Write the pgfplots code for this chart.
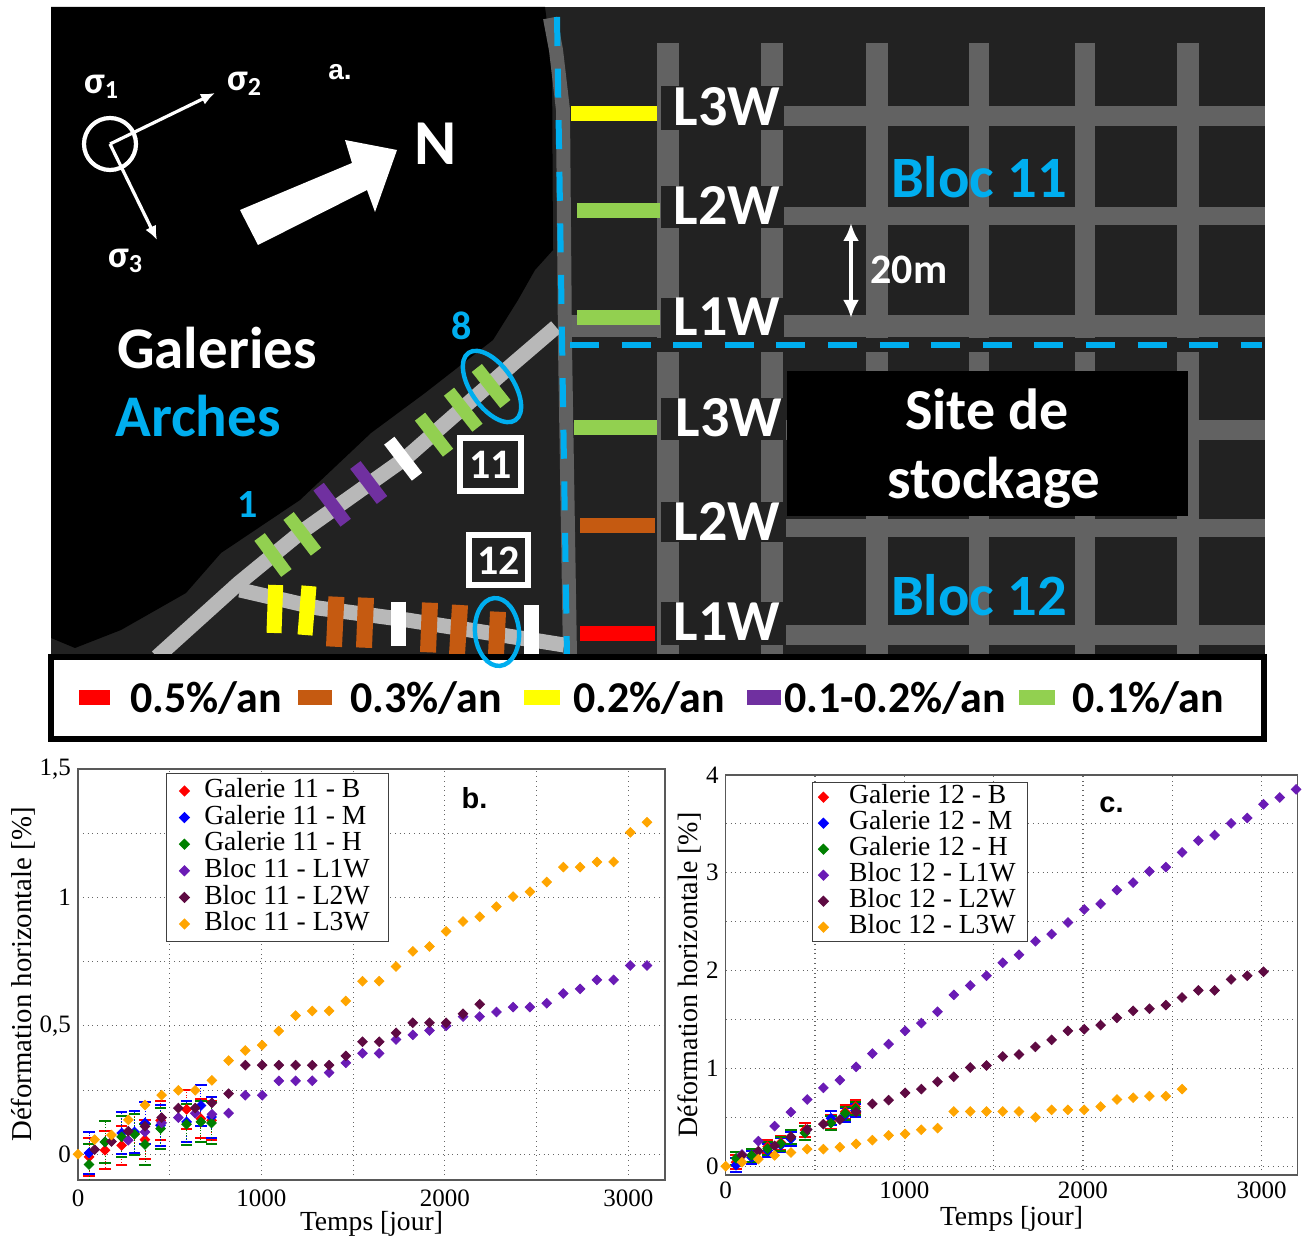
\documentclass[border=0pt]{standalone}
\usepackage{fontspec}
\setmainfont{Liberation Serif}
\newfontfamily\calib{Carlito}
\newfontfamily\ari{Liberation Sans}
\usepackage{pgfplots}
\pgfplotsset{compat=1.18}
\usetikzlibrary{arrows.meta}
\definecolor{cy}{HTML}{00AEEF}
\definecolor{bgg}{HTML}{222222}
\definecolor{rdg}{HTML}{626262}
\definecolor{grn}{HTML}{92D050}
\definecolor{brn}{HTML}{C55A11}
\definecolor{pur}{HTML}{7030A0}
\definecolor{ylw}{HTML}{FFFF00}
\definecolor{pl1}{HTML}{6A1BB5}
\definecolor{pl2}{HTML}{5E0A42}
\definecolor{pl3}{HTML}{FFA500}
\definecolor{gr3}{HTML}{008000}
\newcommand\fs[1]{\fontsize{#1}{#1}\selectfont}
\newcommand\sg[1]{\raisebox{-.3ex}{\fs{13}#1}}
\newcommand\seg[3]{\addplot[draw=#1,line width=#2] coordinates {#3};}
\newcommand\rct[5]{\addplot[fill=#1,draw=none] coordinates {(#2,#3)(#4,#3)(#4,#5)(#2,#5)} --cycle;}
\pgfplotsset{
  gal/.style 2 args={only marks,mark=square*,mark size=1.7pt,color=#1,
    mark options={rotate=45,fill=#1,draw=#1,solid},
    error bars/y dir=both,error bars/y fixed=#2,
    error bars/error bar style={densely dotted,line width=.45pt,color=#1},
    error bars/error mark options={rotate=90,mark size=2.8pt,line width=1pt,draw=#1,color=#1,solid}},
  blk/.style={only marks,mark=square*,mark size=1.7pt,color=#1,
    mark options={rotate=45,fill=#1,draw=#1,solid}},
  chart/.style={scale only axis,axis line style={draw=black!65,line width=.7pt},
    xmin=0,xmax=3200,
    xtick={0,500,1000,1500,2000,2500,3000},
    xticklabels={0,,1000,,2000,,3000},
    grid=major,grid style={dotted,black!60,line width=.55pt},
    major tick length=0pt,
    tick label style={font=\fs{12.5}},
    xlabel={Temps [jour]},ylabel={Déformation horizontale [\%]},
    xlabel style={font=\fs{13.8}},
    legend cell align=left,
    legend style={draw=black!75,line width=.6pt,fill=white,font=\fs{13.8},
      inner ysep=2pt,inner xsep=6.5pt,
      nodes={text height=10pt,text depth=3.3pt,inner ysep=0pt,inner xsep=3pt},
      /tikz/every odd column/.append style={column sep=4.5pt},
      row sep=0pt,anchor=north west}}
}
\begin{document}
\begin{tikzpicture}
\useasboundingbox (0,0) rectangle (651.5pt,618pt);
% ---------- panel a ----------
\begin{axis}[at={(0pt,0pt)},anchor=south west,scale only axis,width=651.5pt,height=618pt,
  xmin=0,xmax=1303,ymin=0,ymax=1236,y dir=reverse,hide axis,clip=true]
\rct{bgg}{51}{7}{1265}{657}
% roads, right hand side
\seg{rdg}{10pt}{(660,116)(1265,116)}
\seg{rdg}{9pt}{(660,216)(1265,216)}
\seg{rdg}{11pt}{(572,326)(1265,326)}
\seg{rdg}{11pt}{(668,43)(668,338)}
\seg{rdg}{11pt}{(772,43)(772,338)}
\seg{rdg}{11pt}{(877,43)(877,338)}
\seg{rdg}{10pt}{(979,43)(979,338)}
\seg{rdg}{10pt}{(1085,43)(1085,338)}
\seg{rdg}{11pt}{(1188,43)(1188,338)}
\seg{rdg}{10pt}{(660,430)(1265,430)}
\seg{rdg}{9pt}{(660,528)(1265,528)}
\seg{rdg}{10pt}{(660,635)(1265,635)}
\seg{rdg}{11pt}{(668,352)(668,657)}
\seg{rdg}{11pt}{(772,352)(772,657)}
\seg{rdg}{11pt}{(877,352)(877,657)}
\seg{rdg}{10pt}{(979,352)(979,657)}
\seg{rdg}{10pt}{(1085,352)(1085,657)}
\seg{rdg}{11pt}{(1188,352)(1188,657)}
% black area
\addplot[fill=black,draw=none] coordinates {(51,7)(545,7)(552,60)(553,250)(535,270)(518,300)(493,340)(425,393)(371,433)(300,500)(221,553)(186,593)(121,630)(75,648)(51,638)} --cycle;
% galleries
\seg{black!62}{7pt}{(550,18)(556,50)(563,110)(565,345)(570,657)}
\seg{black!28}{7.5pt}{(556,327)(514,363)(407,457)(300,533)(239,583)(157,657)}
\seg{black!28}{7.5pt}{(240,590)(318,608)(407,620)(514,637)(564,645)}
% dark behind the labels
\rct{bgg}{661}{86}{784}{130}
\rct{bgg}{661}{186}{784}{228}
\rct{bgg}{661}{298}{784}{338}
\rct{bgg}{661}{398}{786}{440}
\rct{bgg}{661}{502}{786}{542}
\rct{bgg}{661}{602}{786}{645}
\rct{black}{787}{371}{1188}{516}
% colour bars, right
\seg{ylw}{7.5pt}{(571,114)(657,114)}
\seg{grn}{7.5pt}{(577,211)(660,211)}
\seg{grn}{7.5pt}{(577,318)(660,318)}
\seg{grn}{7.5pt}{(574,428)(657,428)}
\seg{brn}{7.5pt}{(580,526)(655,526)}
\seg{red}{7.5pt}{(580,634)(655,634)}
% colour bars, gallery 11
\seg{grn}{6.5pt}{(259.6,537)(286.4,573)}
\seg{grn}{6.5pt}{(288.6,516)(316,551.7)}
\seg{pur}{6.5pt}{(318.6,486.7)(345.7,522.7)}
\seg{pur}{6.5pt}{(355.4,465)(382,500)}
\seg{white}{6.5pt}{(389.3,440.7)(417,476.7)}
\seg{grn}{6.5pt}{(420,416.7)(448,452.7)}
\seg{grn}{6.5pt}{(449,391.7)(477.5,427.7)}
\seg{grn}{6.5pt}{(476.8,368)(505.4,404)}
% colour bars, gallery 12
\seg{ylw}{7.5pt}{(275.7,585)(274,633)}
\seg{ylw}{7.5pt}{(309,586)(305,635)}
\seg{brn}{8pt}{(336.4,596.7)(334,646.7)}
\seg{brn}{8pt}{(366,597.7)(364,647.7)}
\seg{white}{7.5pt}{(398,601.7)(398,646)}
\seg{brn}{8pt}{(430,602.7)(428,652.3)}
\seg{brn}{8pt}{(460,605)(457,655)}
\seg{brn}{8pt}{(498,611.7)(496,655)}
\seg{white}{7.5pt}{(531.4,605)(531.4,655)}
% dashed
\addplot[draw=cy,line width=3pt,dash pattern=on 14.5pt off 11.3pt] coordinates {(557,17)(567,657)};
\addplot[draw=cy,line width=2.6pt,dash pattern=on 14.5pt off 11.3pt] coordinates {(570,345)(1262,345)};
% numbered boxes
\addplot[draw=white,line width=3pt,fill=none] coordinates {(460,438)(521,438)(521,491)(460,491)} --cycle;
\addplot[draw=white,line width=3pt,fill=none] coordinates {(469,535)(528,535)(528,585)(469,585)} --cycle;
% compass
\draw[white,line width=2.1pt] (axis cs:110,144) circle (13pt);
\draw[white,line width=1.6pt,-{Latex[length=7pt,width=6pt]}] (axis cs:110,144) -- (axis cs:215,93);
\draw[white,line width=1.6pt,-{Latex[length=7pt,width=6pt]}] (axis cs:110,144) -- (axis cs:157,240);
% north arrow
\addplot[fill=white,draw=none] coordinates {(240,210)(352,163)(345,140)(397,150)(375,212)(367,190)(258,245)} --cycle;
% 20 m
\draw[white,line width=1.8pt,{Latex[length=9pt,width=8pt]}-{Latex[length=9pt,width=8pt]}] (axis cs:851,223) -- (axis cs:851,318);
% legend box
\addplot[fill=white,draw=black,line width=3pt] coordinates {(51,657)(1264,657)(1264,739)(51,739)} --cycle;
\rct{red}{79}{690}{110}{705}
\rct{brn}{298}{690}{332}{705}
\rct{ylw}{524}{690}{560}{705}
\rct{pur}{747}{690}{781}{705}
\rct{grn}{1019}{690}{1055}{705}
% ellipses
\draw[cy,line width=2.2pt,shift={(axis cs:492,386.5)},rotate=-55] (0,0) ellipse (20.5pt and 10.5pt);
\draw[cy,line width=2.2pt,shift={(axis cs:497,632)},rotate=-85] (0,0) ellipse (17pt and 11pt);
% text
\tikzset{t/.style={font=\calib\bfseries\fs{#1},inner sep=0pt,text=white},tc/.style={font=\calib\bfseries\fs{#1},inner sep=0pt,text=cy},tk/.style={font=\calib\bfseries\fs{#1},inner sep=0pt,text=black,anchor=west}}
\node[t=29] at (axis cs:727,107) {L3W};
\node[t=29] at (axis cs:727,205) {L2W};
\node[t=29] at (axis cs:727,317) {L1W};
\node[t=29] at (axis cs:729,418) {L3W};
\node[t=29] at (axis cs:727,521) {L2W};
\node[t=29] at (axis cs:727,622) {L1W};
\node[tc=29.3] at (axis cs:979,177) {Bloc 11};
\node[tc=29.3] at (axis cs:979,595) {Bloc 12};
\node[t=29] at (axis cs:987,409) {Site de};
\node[t=29.5] at (axis cs:994,483) {stockage};
\node[t=21] at (axis cs:909,270) {20m};
\node[t=29.5] at (axis cs:217,348) {Galeries};
\node[tc=29.5] at (axis cs:198,416) {Arches};
\node[t=32] at (axis cs:436,144) {N};
\node[tc=20] at (axis cs:462,326) {8};
\node[tc=20] at (axis cs:248,505) {1};
\node[t=21] at (axis cs:490.5,465) {11};
\node[t=21] at (axis cs:498.5,561) {12};
\node[t=19] at (axis cs:101,87) {σ\sg{1}};
\node[t=19] at (axis cs:244,84) {σ\sg{2}};
\node[t=19] at (axis cs:125,261) {σ\sg{3}};
\node[font=\ari\bfseries\fs{14},inner sep=0pt,text=white] at (axis cs:340,72) {a.};
\node[tk=22] at (axis cs:130,698) {0.5\%/an};
\node[tk=22] at (axis cs:350,698) {0.3\%/an};
\node[tk=22] at (axis cs:573,698) {0.2\%/an};
\node[tk=22] at (axis cs:784,698) {0.1-0.2\%/an};
\node[tk=22] at (axis cs:1072,698) {0.1\%/an};
\end{axis}
% ---------- chart b ----------
\begin{axis}[chart,at={(39pt,28pt)},anchor=south west,width=293.5pt,height=205.5pt,
  ymin=-0.1,ymax=1.5,ytick={0,.25,.5,.75,1,1.25,1.5},
  yticklabels={0,,{0,5},,1,,{1,5}},
  legend style={at={(0.15,0.99)}},
  xticklabel style={yshift=-1.5pt},
  xlabel style={yshift=4.5pt},ylabel style={font=\fs{14.4},yshift=-4.5pt}]
\addplot[gal={red}{0.075}] coordinates {(60,-.01)(147,.016)(238,.035)(308,.08)(365,.057)(450,.132)(592,.175)(670,.139)(728,.132)};
\addplot[gal={blue}{0.08}] coordinates {(60,.005)(147,.048)(238,.083)(308,.087)(365,.122)(450,.113)(592,.126)(670,.19)(728,.145)};
\addplot[gal={gr3}{0.08}] coordinates {(60,-.04)(147,.048)(238,.068)(308,.078)(365,.038)(450,.1)(592,.117)(670,.126)(728,.122)};
\addplot[blk=pl1] coordinates {(274,.055)(365,.087)(456,.122)(547,.143)(639,.16)(730,.156)(821,.16)(912,.23)(1004,.23)(1095,.286)(1186,.286)(1277,.286)(1369,.318)(1460,.356)(1551,.393)(1642,.393)(1734,.447)(1825,.465)(1916,.482)(2007,.5)(2099,.536)(2190,.536)(2281,.554)(2372,.573)(2464,.573)(2555,.588)(2646,.626)(2737,.644)(2829,.679)(2920,.679)(3011,.735)(3102,.735)};
\addplot[blk=pl2] coordinates {(91,.018)(183,.05)(274,.09)(365,.109)(456,.143)(547,.18)(639,.18)(730,.2)(821,.236)(912,.347)(1004,.347)(1095,.347)(1186,.347)(1277,.347)(1369,.347)(1460,.383)(1551,.438)(1642,.438)(1734,.473)(1825,.512)(1916,.512)(2007,.512)(2099,.547)(2190,.584)};
\addplot[blk=pl3] coordinates {(0,0)(91,.057)(183,.075)(274,.134)(365,.192)(456,.23)(547,.249)(639,.249)(730,.288)(821,.365)(912,.404)(1004,.425)(1095,.48)(1186,.54)(1277,.558)(1369,.558)(1460,.597)(1551,.674)(1642,.674)(1734,.731)(1825,.79)(1916,.809)(2007,.868)(2099,.906)(2190,.925)(2281,.964)(2372,1.003)(2464,1.022)(2555,1.06)(2646,1.118)(2737,1.118)(2829,1.138)(2920,1.138)(3011,1.253)(3102,1.293)};
\legend{Galerie 11 - B,Galerie 11 - M,Galerie 11 - H,Bloc 11 - L1W,Bloc 11 - L2W,Bloc 11 - L3W}
\node[font=\ari\bfseries\fs{14.5},inner sep=0pt] at (axis cs:2162,1.387) {b.};
\end{axis}
% ---------- chart c ----------
\begin{axis}[chart,at={(362.85pt,30.5pt)},anchor=south west,width=285.8pt,height=200pt,
  ymin=-0.09,ymax=4,ytick={0,.5,1,1.5,2,2.5,3,3.5,4},
  yticklabels={0,,1,,2,,3,,4},
  legend style={at={(0.151,0.9825)},inner ysep=.8pt,inner xsep=3pt,
    nodes={text height=9.8pt,text depth=3.2pt},
    /tikz/every odd column/.append style={column sep=7.5pt}},
  xlabel style={yshift=3pt},ylabel style={font=\fs{14},yshift=-4.5pt}]
\addplot[gal={red}{0.07}] coordinates {(58,.04)(145,.11)(235,.2)(309,.24)(365,.3)(444,.37)(589,.45)(669,.556)(727,.61)};
\addplot[gal={blue}{0.07}] coordinates {(58,.01)(145,.09)(235,.16)(309,.215)(365,.28)(444,.34)(589,.49)(669,.52)(727,.57)};
\addplot[gal={gr3}{0.07}] coordinates {(58,.08)(145,.11)(235,.18)(309,.23)(365,.3)(444,.34)(589,.44)(669,.54)(727,.59)};
\addplot[blk=pl1] coordinates {(91,.12)(183,.256)(274,.409)(365,.552)(456,.682)(547,.801)(639,.88)(730,1.016)(821,1.152)(912,1.248)(1004,1.384)(1095,1.463)(1186,1.579)(1277,1.752)(1369,1.848)(1460,1.947)(1551,2.08)(1642,2.162)(1734,2.3)(1825,2.373)(1916,2.492)(2007,2.625)(2099,2.683)(2190,2.823)(2281,2.9)(2372,3.014)(2464,3.058)(2555,3.208)(2646,3.328)(2737,3.386)(2829,3.505)(2920,3.56)(3011,3.7)(3102,3.77)(3193,3.853)};
\addplot[blk=pl2] coordinates {(91,.11)(183,.153)(274,.208)(365,.3)(456,.375)(547,.43)(639,.477)(730,.556)(821,.638)(912,.675)(1004,.75)(1095,.788)(1186,.863)(1277,.914)(1369,1.009)(1460,1.03)(1551,1.122)(1642,1.142)(1734,1.22)(1825,1.292)(1916,1.384)(2007,1.4)(2099,1.442)(2190,1.517)(2281,1.589)(2372,1.61)(2464,1.647)(2555,1.725)(2646,1.797)(2737,1.797)(2829,1.91)(2920,1.947)(3011,1.988)};
\addplot[blk=pl3] coordinates {(0,0)(91,.04)(183,.072)(274,.11)(365,.14)(456,.174)(547,.174)(639,.194)(730,.228)(821,.266)(912,.314)(1004,.33)(1095,.372)(1186,.389)(1277,.559)(1369,.559)(1460,.559)(1551,.559)(1642,.559)(1734,.5)(1825,.576)(1916,.576)(2007,.576)(2099,.61)(2190,.682)(2281,.7)(2372,.716)(2464,.716)(2555,.788)};
\legend{Galerie 12 - B,Galerie 12 - M,Galerie 12 - H,Bloc 12 - L1W,Bloc 12 - L2W,Bloc 12 - L3W}
\node[font=\ari\bfseries\fs{14.5},inner sep=0pt] at (axis cs:2160,3.69) {c.};
\end{axis}
\end{tikzpicture}
\end{document}
